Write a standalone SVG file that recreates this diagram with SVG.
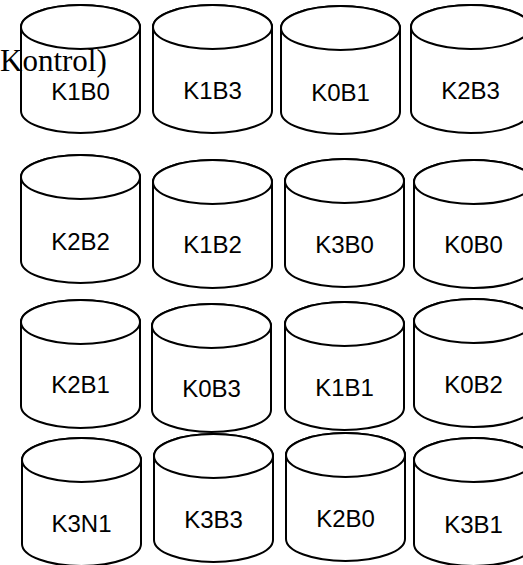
<svg xmlns="http://www.w3.org/2000/svg" xmlns:xlink="http://www.w3.org/1999/xlink" width="523" height="565" viewBox="0 0 523 565">
<style>
.cyl{fill:#fff;stroke:#000;stroke-width:2}
.lbl{font-family:"Liberation Sans",Arial,sans-serif;font-size:24px;fill:#000;text-anchor:middle}
.cap{font-family:"Liberation Serif","Times New Roman",serif;font-size:31px;fill:#000}
</style>
<defs>
<g id="cyl">
<path class="cyl" d="M0,22 L0,106 A59.5,22 0 0 0 119,106 L119,22 A59.5,22 0 0 0 0,22 Z"/>
<ellipse class="cyl" cx="59.5" cy="22" rx="59.5" ry="22"/>
</g>
</defs>
<rect width="523" height="565" fill="#fff"/>
<g id="connectors"/>
<g id="n-K1B0" transform="translate(21,5)"><use href="#cyl"/><text class="lbl" x="59.5" y="95">K1B0</text></g>
<g id="n-K1B3" transform="translate(153,5)"><use href="#cyl"/><text class="lbl" x="59.5" y="94">K1B3</text></g>
<g id="n-K0B1" transform="translate(281,6)"><use href="#cyl"/><text class="lbl" x="59.5" y="95">K0B1</text></g>
<g id="n-K2B3" transform="translate(411,5)"><use href="#cyl"/><text class="lbl" x="59.5" y="94">K2B3</text></g>

<g id="n-K2B2" transform="translate(21,155)"><use href="#cyl"/><text class="lbl" x="59.5" y="95">K2B2</text></g>
<g id="n-K1B2" transform="translate(153,160)"><use href="#cyl"/><text class="lbl" x="59.5" y="93">K1B2</text></g>
<g id="n-K3B0" transform="translate(285,159)"><use href="#cyl"/><text class="lbl" x="59.5" y="94">K3B0</text></g>
<g id="n-K0B0" transform="translate(414,160)"><use href="#cyl"/><text class="lbl" x="59.5" y="93">K0B0</text></g>

<g id="n-K2B1" transform="translate(21,300)"><use href="#cyl"/><text class="lbl" x="59.5" y="93">K2B1</text></g>
<g id="n-K0B3" transform="translate(152,304)"><use href="#cyl"/><text class="lbl" x="59.5" y="93">K0B3</text></g>
<g id="n-K1B1" transform="translate(285,302)"><use href="#cyl"/><text class="lbl" x="59.5" y="94">K1B1</text></g>
<g id="n-K0B2" transform="translate(414,299)"><use href="#cyl"/><text class="lbl" x="59.5" y="94">K0B2</text></g>

<g id="n-K3N1" transform="translate(22,438)"><use href="#cyl"/><text class="lbl" x="59.5" y="94">K3N1</text></g>
<g id="n-K3B3" transform="translate(154,434)"><use href="#cyl"/><text class="lbl" x="59.5" y="94">K3B3</text></g>
<g id="n-K2B0" transform="translate(286,433)"><use href="#cyl"/><text class="lbl" x="59.5" y="94">K2B0</text></g>
<g id="n-K3B1" transform="translate(414,438)"><use href="#cyl"/><text class="lbl" x="59.5" y="95">K3B1</text></g>

<text class="cap" x="0" y="71">Kontrol)</text>
</svg>
